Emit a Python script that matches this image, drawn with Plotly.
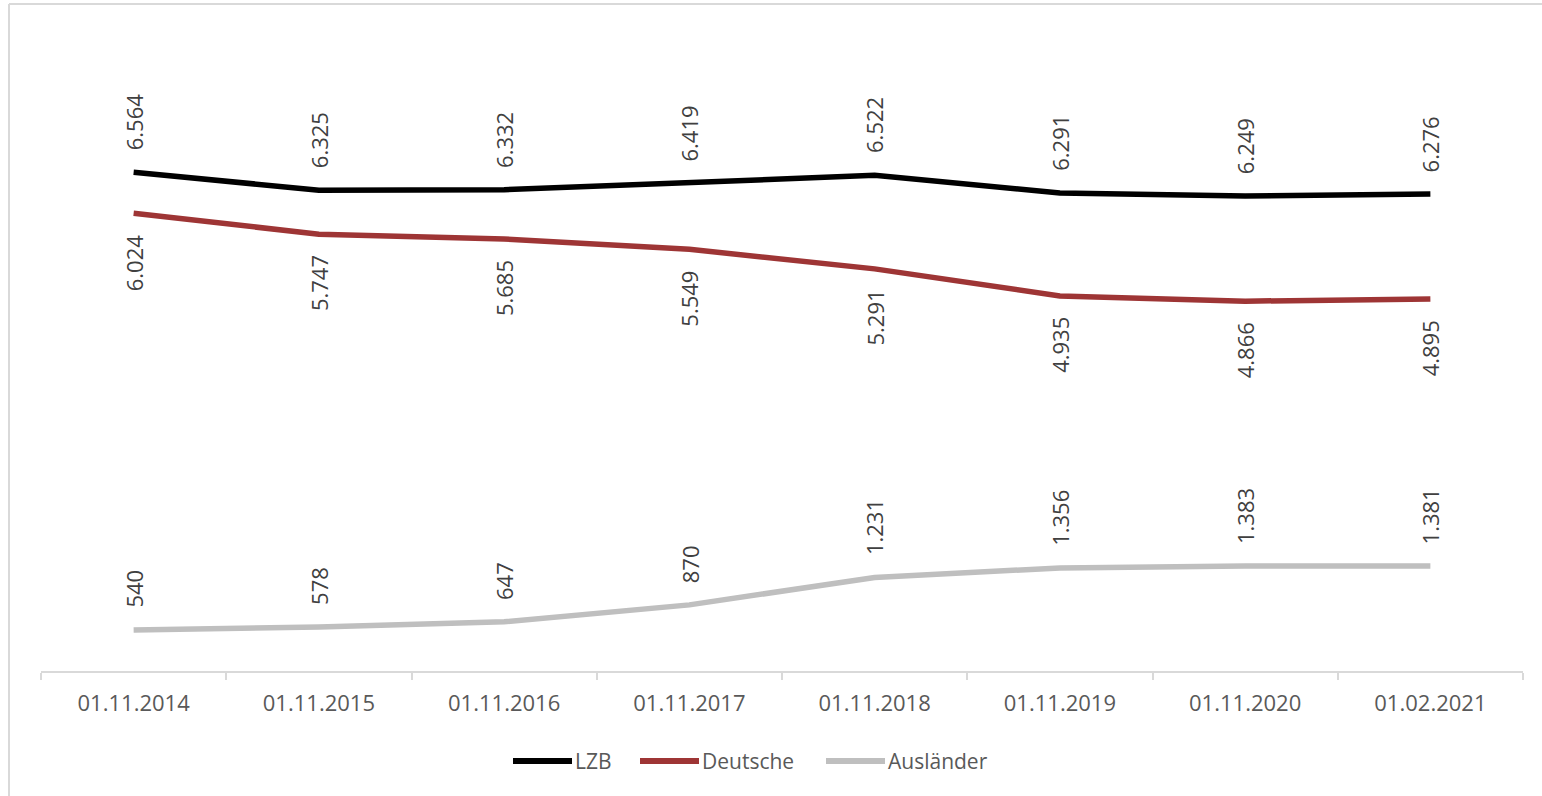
import plotly.graph_objects as go

categories = ["01.11.2014", "01.11.2015", "01.11.2016", "01.11.2017",
              "01.11.2018", "01.11.2019", "01.11.2020", "01.02.2021"]
lzb = [6564, 6325, 6332, 6419, 6522, 6291, 6249, 6276]
deutsche = [6024, 5747, 5685, 5549, 5291, 4935, 4866, 4895]
auslaender = [540, 578, 647, 870, 1231, 1356, 1383, 1381]

series_names = ["LZB", "Deutsche", "Ausländer"]
series_values = [lzb, deutsche, auslaender]
series_colors = ["#000000", "#9e3535", "#bfbfbf"]
label_side = ["above", "below", "above"]

W, H = 1542, 796
ML, MR, MT, MB = 41, 19, 63, 125
FONT = "Open Sans"
PW = W - ML - MR
PH = H - MT - MB


def px_x(px):
    return (px - ML) / PW


def px_y(py):
    return (H - MB - py) / PH


def fmt(v):
    return f"{v:,}".replace(",", ".")


fig = go.Figure()
annotations = []
for name, vals, color, pos in zip(series_names, series_values, series_colors, label_side):
    fig.add_trace(go.Scatter(
        x=categories, y=vals, name=name, mode="lines", showlegend=False,
        line=dict(color=color, width=5.5),
    ))
    for c, v in zip(categories, vals):
        annotations.append(dict(
            x=c, y=v, xref="x", yref="y", text=fmt(v), showarrow=False,
            textangle=-90, font=dict(family=FONT, size=22, color="#404040"),
            yanchor="bottom" if pos == "above" else "top",
            yshift=20 if pos == "above" else -19,
        ))

shapes = [
    dict(type="line", xref="paper", yref="paper", x0=px_x(9), x1=px_x(9),
         y0=px_y(H + 5), y1=px_y(4), line=dict(color="#d9d9d9", width=2)),
    dict(type="line", xref="paper", yref="paper", x0=px_x(9), x1=px_x(W + 5),
         y0=px_y(4), y1=px_y(4), line=dict(color="#d9d9d9", width=2)),
]

# custom legend (long line symbols like the reference)
legend_y = 761
legend_lines = [(513, 572), (640, 699), (826, 885)]
for name, color, (x0, x1) in zip(series_names, series_colors, legend_lines):
    shapes.append(dict(type="line", xref="paper", yref="paper",
                       x0=px_x(x0), x1=px_x(x1), y0=px_y(legend_y), y1=px_y(legend_y),
                       line=dict(color=color, width=6)))
    annotations.append(dict(x=px_x(x1 + 1), y=px_y(legend_y), xref="paper", yref="paper",
                            text=name, showarrow=False, xanchor="left", yanchor="middle",
                            font=dict(family=FONT, size=21, color="#595959")))

fig.update_layout(
    width=W, height=H,
    margin=dict(l=ML, r=MR, t=MT, b=MB, autoexpand=False),
    paper_bgcolor="white", plot_bgcolor="white",
    annotations=annotations, shapes=shapes,
    showlegend=False,
    xaxis=dict(type="category", range=[-0.5, 7.5], showgrid=False,
               showline=True, linecolor="#d9d9d9", linewidth=2,
               ticks="outside", tickson="boundaries", ticklen=7,
               tickcolor="#d9d9d9", tickwidth=2, ticklabelstandoff=12,
               tickfont=dict(family=FONT, size=22, color="#595959"),
               fixedrange=True),
    yaxis=dict(range=[0, 8000], visible=False, showgrid=False, zeroline=False,
               fixedrange=True),
)

fig.write_html(
    "out.html",
    config={"displayModeBar": False},
    post_script="document.body.style.margin='0';document.body.style.overflow='hidden';",
)
